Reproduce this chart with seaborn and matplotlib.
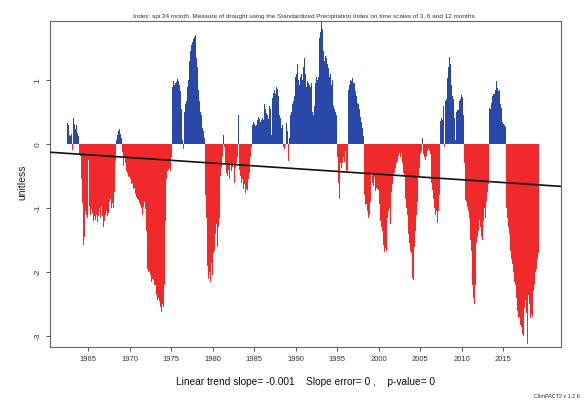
import numpy as np
import pandas as pd
import matplotlib
matplotlib.use("Agg")
import matplotlib.pyplot as plt
import seaborn as sns

# ---------------- data ----------------
start_year = 1962
start_month = 6  # first value = June 1962

spi = [
    # 1962 (Jun-Dec)
    0.33, 0.36, 0.30, 0.14, 0.18, 0.12, 0.16,
    # 1963
    0.22, -0.09, 0.41, 0.38, 0.32, 0.24, 0.30, 0.26, 0.18, 0.12, -0.06, -0.15,
    # 1964
    -0.18, -0.22, -0.55, -0.92, -1.20, -1.57, -1.45, -1.05, -0.98, -1.10, -1.15, -1.02,
    # 1965
    -0.25, -0.98, -1.05, -1.10, -1.02, -1.15, -1.08, -1.20, -1.12, -1.26, -1.18, -1.10,
    # 1966
    -1.05, -1.22, -1.12, -1.26, -1.00, -1.15, -1.08, -0.96, -1.12, -1.30, -1.46, -1.20,
    # 1967
    -1.10, -0.98, -1.05, -1.13, -0.95, -1.08, -0.90, -1.12, -0.85, -1.00, -0.92, -1.05,
    # 1968
    -1.00, -0.75, -0.05, -0.27, 0.06, 0.10, 0.14, 0.20, 0.28, 0.24, 0.16, 0.10,
    # 1969
    0.05, -0.12, -0.34, -0.15, -0.22, -0.30, -0.36, -0.42, -0.45, -0.48, -0.52, -0.50,
    # 1970
    -0.55, -0.58, -0.62, -0.60, -0.66, -0.70, -0.68, -0.74, -0.78, -0.82, -0.80, -0.86,
    # 1971
    -0.88, -0.92, -1.15, -0.95, -1.00, -1.05, -1.10, -0.98, -0.85, -0.90, -1.02, -1.10,
    # 1972
    -1.35, -1.95, -2.00, -1.90, -1.98, -2.05, -2.00, -2.15, -2.10, -2.05, -2.12, -2.20,
    # 1973
    -2.15, -2.20, -2.35, -2.44, -2.48, -2.40, -2.45, -2.52, -2.55, -2.62, -2.58, -2.50,
    # 1974
    -2.55, -2.45, -2.20, -1.20, -0.55, -0.45, -0.42, -0.40, -0.44, -0.38, -0.42, -0.35,
    # 1975
    -0.20, 0.90, 0.95, 0.98, 0.92, 0.96, 1.00, 0.97, 1.02, 0.95, 0.98, 0.92,
    # 1976
    0.90, 0.83, 0.55, 0.25, 0.07, -0.08, 0.40, 0.50, 0.62, 0.67, 0.75, 0.90,
    # 1977
    1.00, 1.15, 1.30, 1.45, 1.50, 1.55, 1.60, 1.58, 1.65, 1.68, 1.71, 1.60,
    # 1978
    1.35, 1.20, 1.00, 0.85, 0.67, 0.60, 0.50, 0.45, 0.35, 0.25, 0.20, 0.10,
    # 1979
    -0.45, -0.80, -1.15, -1.60, -1.90, -2.10, -2.17, -2.00, -2.15, -1.95, -1.85, -2.05,
    # 1980
    -1.70, -1.50, -1.67, -1.40, -1.55, -1.25, -1.60, -1.78, -1.30, -1.15, -0.80, -0.50,
    # 1981
    -0.35, -0.20, -0.10, 0.14, -0.05, -0.15, -0.30, -0.45, -0.35, -0.50, -0.40, -0.48,
    # 1982
    -0.55, -0.30, -0.42, -0.25, -0.35, -0.30, -0.45, -0.60, -0.38, -0.25, -0.30, -0.20,
    # 1983
    -0.10, 0.46, -0.40, -0.50, -0.45, -0.60, -0.55, -0.65, -0.70, -0.62, -0.73, -0.76,
    # 1984
    -0.70, -0.60, -0.72, -0.55, -0.45, -0.30, -0.20, -0.05, 0.25, 0.30, 0.35, 0.30,
    # 1985
    0.32, 0.28, 0.35, 0.30, 0.38, 0.42, 0.36, 0.40, 0.34, 0.43, 0.38, 0.41,
    # 1986
    0.45, 0.38, 0.62, 1.14, 0.55, 0.48, 0.45, 0.52, 0.40, 0.60, 0.50, 0.55,
    # 1987
    0.15, 0.30, 0.72, 0.80, 0.88, 0.85, 0.78, 0.90, 0.82, 0.86, 0.75, 0.70,
    # 1988
    0.45, 0.41, 0.32, 0.25, 0.30, 0.20, -0.05, -0.08, -0.02, 0.10, 0.33, 0.20,
    # 1989
    0.05, -0.27, 0.10, 0.20, 0.45, 0.50, 0.55, 0.62, 0.67, 0.75, 0.90, 1.05,
    # 1990
    1.10, 1.30, 1.25, 1.00, 1.09, 0.93, 1.05, 0.98, 1.10, 1.00, 1.20, 1.35,
    # 1991
    1.35, 1.10, 0.95, 0.90, 0.98, 0.88, 0.96, 0.92, 0.98, 0.90, 0.95, 0.85,
    # 1992
    0.50, 0.46, 0.60, 0.67, 0.95, 1.05, 1.09, 1.00, 1.05, 1.30, 1.66, 1.75,
    # 1993
    1.85, 1.92, 1.80, 1.45, 1.40, 1.30, 1.38, 1.20, 1.35, 1.25, 1.30, 1.19,
    # 1994
    1.05, 0.95, 1.09, 0.93, 1.00, 0.70, 0.60, 0.55, 0.67, 0.50, 0.45, 0.40,
    # 1995
    -0.20, -0.60, -1.05, -0.85, -0.30, -0.37, -0.25, -0.30, -0.20, -0.35, -0.28, -0.10,
    # 1996
    0.02, -0.45, -0.40, 0.30, 0.85, 0.93, 1.00, 1.04, 0.98, 1.04, 1.00, 0.95,
    # 1997
    0.95, 0.90, 0.83, 0.75, 0.70, 0.65, 0.62, 0.55, 0.50, 0.42, 0.35, 0.30,
    # 1998
    0.25, 0.12, -0.63, -0.80, -0.95, -1.00, -0.94, -1.05, -1.15, -1.00, -1.10, -0.90,
    # 1999
    -0.75, -0.47, -0.60, -0.55, -0.65, -0.52, -0.60, -0.73, -0.68, -0.70, -0.62, -0.72,
    # 2000
    -0.94, -1.05, -1.20, -1.30, -1.41, -1.35, -1.57, -1.60, -1.68, -1.62, -1.67, -1.50,
    # 2001
    -1.15, -1.05, -0.94, -1.00, -1.25, -1.10, -0.75, -0.63, -0.55, -0.50, -0.45, -0.37,
    # 2002
    -0.35, -0.30, -0.27, -0.22, -0.18, -0.14, -0.10, -0.20, -0.14, -0.05, -0.30, -0.45,
    # 2003
    -0.52, -0.70, -0.85, -1.00, -1.25, -1.10, -1.41, -1.50, -1.55, -1.67, -1.60, -1.70,
    # 2004
    -2.09, -2.12, -1.90, -1.60, -1.36, -1.20, -1.10, -0.90, -0.70, -0.50, -0.37, -0.25,
    # 2005
    -0.15, -0.10, 0.10, -0.05, -0.15, -0.20, -0.12, -0.25, -0.18, -0.29, -0.10, -0.08,
    # 2006
    0.17, -0.10, -0.16, -0.60, -1.26, -0.72, -0.85, -0.95, -1.00, -1.10, -0.90, -1.05,
    # 2007
    -1.23, -0.95, -1.05, -0.80, 0.30, 0.36, 0.41, 0.38, 0.58, 0.60, -0.05, 0.62,
    # 2008
    0.67, 0.70, 0.95, 1.04, 1.20, 1.30, 1.37, 1.25, 0.93, 0.85, 0.75, 0.70,
    # 2009
    0.62, 0.41, 0.07, 0.25, 0.50, 0.53, 0.45, 0.53, 0.67, 0.70, 0.74, 0.77,
    # 2010
    0.74, 0.60, 0.45, -0.30, -0.84, -0.88, -0.90, -0.94, -0.98, -1.05, -1.15, -1.35,
    # 2011
    -1.50, -1.67, -1.90, -2.20, -2.40, -2.64, -2.50, -2.20, -1.67, -1.55, -1.45, -1.36,
    # 2012
    -1.50, -1.18, -1.30, -1.40, -1.45, -1.50, -1.40, -1.20, -1.00, -0.95, -1.15, -0.90,
    # 2013
    -0.75, -0.70, -0.63, 0.57, 0.60, 0.55, 0.65, 0.72, 0.75, 0.78, 0.74, 0.78,
    # 2014
    0.85, 0.98, 0.95, 0.88, 0.83, 0.78, 0.85, 0.62, 0.60, 0.57, 0.35, 0.30,
    # 2015
    0.32, 0.30, 0.27, -0.90, -1.00, -1.15, -1.10, -1.30, -1.40, -1.55, -1.67, -1.80,
    # 2016
    -1.92, -1.88, -2.00, -2.15, -2.35, -2.20, -2.40, -2.50, -2.60, -2.71, -2.65, -2.70,
    # 2017
    -2.82, -2.90, -2.85, -2.97, -3.00, -2.95, -2.56, -2.45, -2.38, -2.64, -3.13, -2.40,
    # 2018
    -2.35, -2.50, -2.60, -2.72, -2.66, -2.70, -2.40, -2.30, -2.20, -2.10, -2.00, -1.95,
    # 2019 (Jan-Mar)
    -1.90, -1.80, -1.70,
]

x_ticks = [1965, 1970, 1975, 1980, 1985, 1990, 1995, 2000, 2005, 2010, 2015]
y_ticks = [-3, -2, -1, 0, 1]

trend_ref_year = 1962.0
trend_ref_value = -0.14
trend_slope_per_year = -0.00867

title = ("Index: spi 24 month. Measure of drought using the Standardized "
         "Precipitation Index on time scales of 3, 6 and 12 months")
footer = "Linear trend slope= -0.001    Slope error= 0 ,    p-value= 0"
ylabel = "unitless"
credit = "ClimPACT2 v 1.2.6"

# ---------------- build table ----------------
n = len(spi)
dates = [start_year + (start_month - 1 + i) / 12.0 + 1 / 24.0 for i in range(n)]
df = pd.DataFrame({"date": dates, "spi": spi})
df["sign"] = np.where(df["spi"] >= 0, "pos", "neg")

BLUE = "#2a48a8"
RED = "#f02a2a"

sns.set_style("white")
plt.rcParams["font.family"] = ["Liberation Sans", "DejaVu Sans"]

fig = plt.figure(figsize=(5.84, 4.00), dpi=100)
ax = fig.add_axes([50.3 / 584, 1 - 347 / 400, (560.5 - 50.3) / 584, (347 - 21) / 400])

sns.barplot(data=df, x="date", y="spi", hue="sign",
            palette={"pos": BLUE, "neg": RED}, native_scale=True,
            dodge=False, width=1.0, errorbar=None, legend=False,
            saturation=1, linewidth=0, edgecolor="none", ax=ax)

ax.axline((trend_ref_year, trend_ref_value), slope=trend_slope_per_year,
          color="#111111", lw=1.2, zorder=5)

ax.set_xlim(1960.42, 2021.87)
ax.set_ylim(-3.17, 1.925)

ax.set_xticks(x_ticks)
ax.set_xticklabels([str(t) for t in x_ticks], fontsize=5.5, color="#333333")
ax.set_yticks(y_ticks)
ax.set_yticklabels([str(t) for t in y_ticks], fontsize=6, color="#333333",
                   rotation=90, va="center")
ax.tick_params(axis="both", which="both", length=3, width=0.7,
               color="#555555", direction="out", bottom=True, left=True, pad=3.5)
ax.set_xlabel("")
ax.set_ylabel("")
for s in ax.spines.values():
    s.set_color("#666666")
    s.set_linewidth(0.8)

fig.text(22.7 / 584, 1 - 182.5 / 400, ylabel, rotation=90, ha="center",
         va="center", fontsize=7.5, color="#222222")
fig.text(303.6 / 584, 1 - 16.5 / 400, title, ha="center", va="center",
         fontsize=4.6, color="#333333")
fig.text(305.5 / 584, 1 - 382 / 400, footer, ha="center", va="center",
         fontsize=7.3, color="#111111")
fig.text(580 / 584, 1 - 396.5 / 400, credit, ha="right", va="center",
         fontsize=4.0, color="#333333")

fig.savefig("out.png", dpi=100)
